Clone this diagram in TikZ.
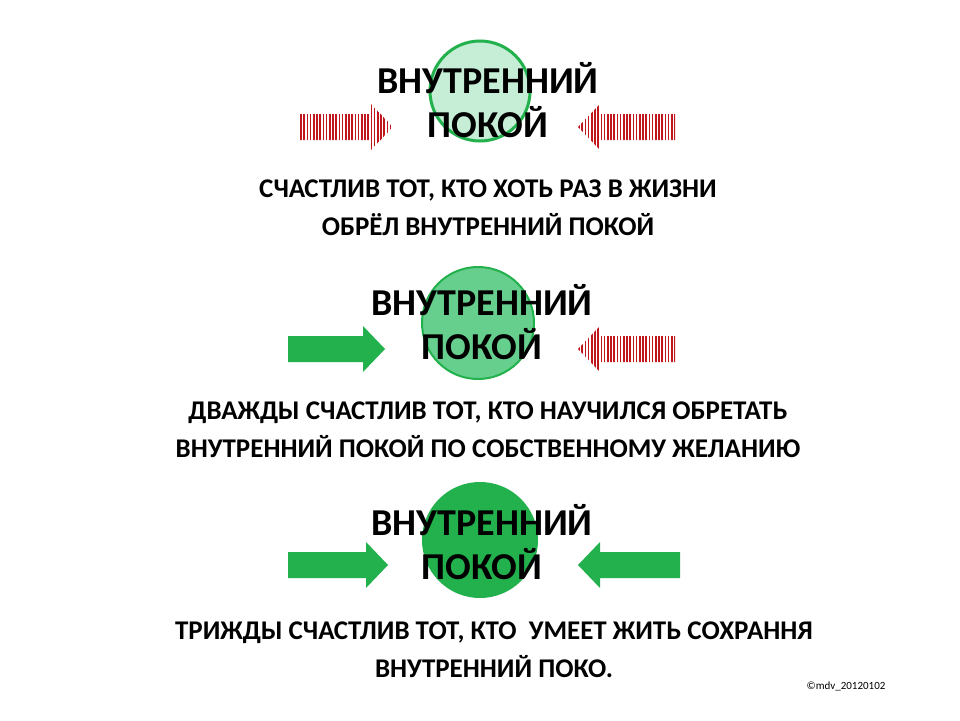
\documentclass[tikz,border=0pt]{standalone}
\usepackage{fontspec}
\setmainfont{Carlito}
\definecolor{gA}{HTML}{22B14C}
\definecolor{gL}{HTML}{C6EDD6}
\definecolor{gM}{HTML}{66CF8E}
\definecolor{rA}{HTML}{C0161C}
\newcommand{\arrR}[3]{% x0, xtip, yc
  ({#1},{#3-13}) -- ({#2-22},{#3-13}) -- ({#2-22},{#3-23}) -- ({#2},{#3}) -- ({#2-22},{#3+23}) -- ({#2-22},{#3+13}) -- ({#1},{#3+13}) -- cycle}
\newcommand{\arrL}[3]{% xtip, x1, yc
  ({#2},{#3-13}) -- ({#1+22},{#3-13}) -- ({#1+22},{#3-23}) -- ({#1},{#3}) -- ({#1+22},{#3+23}) -- ({#1+22},{#3+13}) -- ({#2},{#3+13}) -- cycle}
\newcommand{\stripes}[2]{\foreach \ii in {0,...,31}{\draw[rA,line width=1.7pt] ({#1+3.2*\ii},{#2-30}) -- ({#1+3.2*\ii},{#2+30});}}
\tikzset{big/.style={font=\fontsize{38}{44}\bfseries\selectfont,align=center},
  txt/.style={font=\fontsize{27}{38}\bfseries\selectfont,align=center}}
\begin{document}
\begin{tikzpicture}[x=1pt,y=-1pt]
\useasboundingbox[fill=white] (0,0) rectangle (960,720);
% row 1
\node[circle,draw=gA,line width=3pt,fill=gL,minimum size=100pt] (c1) at (480,91) {};
\begin{scope}\clip \arrR{300}{393}{127}; \stripes{301}{127}\end{scope}
\begin{scope}\clip \arrL{578}{675}{127}; \stripes{579}{127}\end{scope}
\node[big] (t1) at (488,100) {ВНУТРЕННИЙ\\ПОКОЙ};
\node[txt] (s1) at (488,208) {СЧАСТЛИВ ТОТ, КТО ХОТЬ РАЗ В ЖИЗНИ\\ОБРЁЛ ВНУТРЕННИЙ ПОКОЙ};
% row 2
\node[circle,draw=gA,line width=2pt,fill=gM,minimum size=112pt] (c2) at (478,323) {};
\fill[gA] \arrR{288}{385}{349};
\begin{scope}\clip \arrL{578}{675}{349}; \stripes{579}{349}\end{scope}
\node[big] (t2) at (482,322) {ВНУТРЕННИЙ\\ПОКОЙ};
\node[txt] (s2) at (488,430) {ДВАЖДЫ СЧАСТЛИВ ТОТ, КТО НАУЧИЛСЯ ОБРЕТАТЬ\\ВНУТРЕННИЙ ПОКОЙ ПО СОБСТВЕННОМУ ЖЕЛАНИЮ};
% row 3
\node[circle,fill=gA,minimum size=116pt] (c3) at (480,540) {};
\fill[gA] \arrR{288}{388}{565};
\fill[gA] \arrL{578}{680}{565};
\node[big] (t3) at (482,542) {ВНУТРЕННИЙ\\ПОКОЙ};
\node[txt] (s3) at (494,650) {ТРИЖДЫ СЧАСТЛИВ ТОТ, КТО\ \ УМЕЕТ ЖИТЬ СОХРАННЯ\\ВНУТРЕННИЙ ПОКО.};
\node[font=\fontsize{11}{13}\selectfont] (cp) at (846,686) {©mdv\_20120102};
\end{tikzpicture}
\end{document}
